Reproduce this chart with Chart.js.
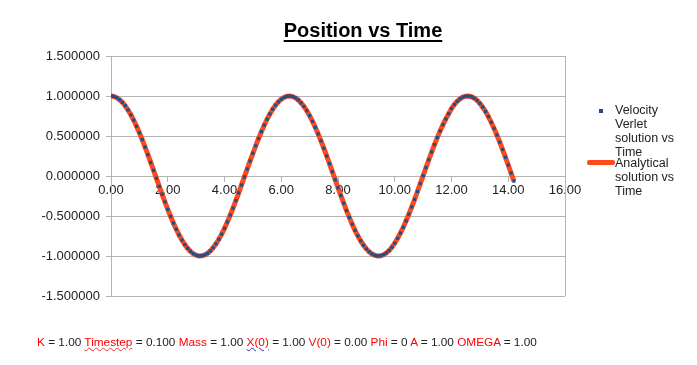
<!DOCTYPE html>
<html>
<head>
<meta charset="utf-8">
<script src="https://cdn.jsdelivr.net/npm/chart.js@4.4.1/dist/chart.umd.min.js"></script>
<style>
  html, body { margin: 0; padding: 0; background: #fff; }
  #wrap { position: relative; width: 697px; height: 365px; overflow: hidden; background: #fff; font-family: "Liberation Sans", Arial, sans-serif; }
  #c { position: absolute; left: 0; top: 0; }
  #title { position: absolute; left: 213px; width: 300px; top: 20px; text-align: center; font: bold 20px/20px "Liberation Sans", Arial, sans-serif; color: #000; text-decoration: underline; text-decoration-thickness: 2px; text-underline-offset: 3px; }
  .lg { position: absolute; font-size: 12.5px; line-height: 14px; color: #222; }
  #mk1 { position: absolute; left: 599px; top: 109px; width: 4px; height: 4px; background: #1F4E89; }
  #mk2 { position: absolute; left: 587px; top: 160px; width: 28px; height: 5px; background: #FF4A1C; border-radius: 2px; }
  #foot { position: absolute; left: 37px; top: 335px; font-size: 11.8px; line-height: 14px; color: #222; white-space: nowrap; }
  #foot .r { color: #f00; }
  #foot .wr { color: #f00; text-decoration: underline wavy #e33; text-decoration-thickness: 1px; }
  #foot .wb { color: #f00; text-decoration: underline wavy #33c; text-decoration-thickness: 1px; }
</style>
</head>
<body>
<div id="wrap">
  <canvas id="c" width="697" height="365"></canvas>
  <div id="title">Position vs Time</div>
  <div id="mk1"></div>
  <div class="lg" style="left:615px; top:103px;">Velocity<br>Verlet<br>solution vs<br>Time</div>
  <div id="mk2"></div>
  <div class="lg" style="left:615px; top:156px;">Analytical<br>solution vs<br>Time</div>
  <div id="foot"><span class="r">K</span> = 1.00 <span class="wr">Timestep</span> = 0.100 <span class="r">Mass</span> = 1.00 <span class="wb">X(0)</span> = 1.00 <span class="r">V(0)</span> = 0.00 <span class="r">Phi</span> = 0 <span class="r">A</span> = 1.00 <span class="r">OMEGA</span> = 1.00</div>
</div>
<script>
const timeValues = [0.0,0.1,0.2,0.3,0.4,0.5,0.6,0.7,0.8,0.9,1.0,1.1,1.2,1.3,1.4,1.5,1.6,1.7,1.8,1.9,2.0,2.1,2.2,2.3,2.4,2.5,2.6,2.7,2.8,2.9,3.0,3.1,3.2,3.3,3.4,3.5,3.6,3.7,3.8,3.9,4.0,4.1,4.2,4.3,4.4,4.5,4.6,4.7,4.8,4.9,5.0,5.1,5.2,5.3,5.4,5.5,5.6,5.7,5.8,5.9,6.0,6.1,6.2,6.3,6.4,6.5,6.6,6.7,6.8,6.9,7.0,7.1,7.2,7.3,7.4,7.5,7.6,7.7,7.8,7.9,8.0,8.1,8.2,8.3,8.4,8.5,8.6,8.7,8.8,8.9,9.0,9.1,9.2,9.3,9.4,9.5,9.6,9.7,9.8,9.9,10.0,10.1,10.2,10.3,10.4,10.5,10.6,10.7,10.8,10.9,11.0,11.1,11.2,11.3,11.4,11.5,11.6,11.7,11.8,11.9,12.0,12.1,12.2,12.3,12.4,12.5,12.6,12.7,12.8,12.9,13.0,13.1,13.2,13.3,13.4,13.5,13.6,13.7,13.8,13.9,14.0,14.1,14.2];

const verletPositions = [1.000,0.995,0.980,0.955,0.921,0.878,0.825,0.765,0.697,0.622,0.540,0.454,0.362,0.267,0.170,0.071,-0.029,-0.129,-0.227,-0.323,-0.416,-0.505,-0.589,-0.666,-0.737,-0.801,-0.857,-0.904,-0.942,-0.971,-0.990,-0.999,-0.998,-0.987,-0.967,-0.936,-0.897,-0.848,-0.791,-0.726,-0.654,-0.575,-0.490,-0.401,-0.307,-0.211,-0.112,-0.012,0.087,0.187,0.284,0.378,0.469,0.554,0.635,0.709,0.776,0.835,0.886,0.927,0.960,0.983,0.997,1.000,0.993,0.977,0.950,0.914,0.869,0.816,0.754,0.684,0.608,0.526,0.439,0.347,0.251,0.154,0.054,-0.046,-0.146,-0.244,-0.340,-0.432,-0.519,-0.602,-0.679,-0.749,-0.811,-0.865,-0.911,-0.948,-0.975,-0.992,-1.000,-0.997,-0.985,-0.963,-0.932,-0.891,-0.839,-0.779,-0.714,-0.641,-0.561,-0.476,-0.386,-0.291,-0.194,-0.095,0.004,0.104,0.203,0.299,0.392,0.480,0.564,0.642,0.714,0.778,0.844,0.893,0.934,0.965,0.986,0.998,0.999,0.991,0.973,0.945,0.907,0.861,0.806,0.743,0.672,0.594,0.512,0.423,0.331,0.235,0.137,0.037,-0.063];

const analyticalPositions = [1.000,0.995,0.980,0.955,0.921,0.878,0.825,0.765,0.697,0.622,0.540,0.454,0.362,0.267,0.170,0.071,-0.029,-0.129,-0.227,-0.323,-0.416,-0.505,-0.589,-0.666,-0.737,-0.801,-0.857,-0.904,-0.942,-0.971,-0.990,-0.999,-0.998,-0.987,-0.967,-0.936,-0.897,-0.848,-0.791,-0.726,-0.654,-0.575,-0.490,-0.401,-0.307,-0.211,-0.112,-0.012,0.087,0.187,0.284,0.378,0.469,0.554,0.635,0.709,0.776,0.835,0.886,0.927,0.960,0.983,0.997,1.000,0.993,0.977,0.950,0.914,0.869,0.816,0.754,0.684,0.608,0.526,0.439,0.347,0.251,0.154,0.054,-0.046,-0.146,-0.244,-0.340,-0.432,-0.519,-0.602,-0.679,-0.749,-0.811,-0.865,-0.911,-0.948,-0.975,-0.992,-1.000,-0.997,-0.985,-0.963,-0.932,-0.891,-0.839,-0.779,-0.714,-0.641,-0.561,-0.476,-0.386,-0.291,-0.194,-0.095,0.004,0.104,0.203,0.299,0.392,0.480,0.564,0.642,0.714,0.778,0.844,0.893,0.934,0.965,0.986,0.998,0.999,0.991,0.973,0.945,0.907,0.861,0.806,0.743,0.672,0.594,0.512,0.423,0.331,0.235,0.137,0.037,-0.063];

const seriesNames = ["Velocity Verlet solution vs Time", "Analytical solution vs Time"];

const verletData = timeValues.map((t, i) => ({ x: t, y: verletPositions[i] }));
const analyticalData = timeValues.map((t, i) => ({ x: t, y: analyticalPositions[i] }));

const gridColor = '#b4b4b4';
const tickFont = { family: '"Liberation Sans", Arial, sans-serif', size: 13 };

const frameBorder = {
  id: 'frameBorder',
  beforeDatasetsDraw(chart) {
    const { ctx, chartArea: a } = chart;
    ctx.save();
    ctx.strokeStyle = gridColor;
    ctx.lineWidth = 1;
    ctx.beginPath();
    ctx.moveTo(Math.round(a.right) + 0.5, a.top);
    ctx.lineTo(Math.round(a.right) + 0.5, a.bottom);
    ctx.stroke();
    ctx.restore();
  }
};

new Chart(document.getElementById('c'), {
  type: 'scatter',
  data: {
    datasets: [
      {
        label: seriesNames[0],
        data: verletData,
        showLine: false,
        pointStyle: 'rect',
        pointRadius: 2.3,
        pointHoverRadius: 2.3,
        borderWidth: 0,
        backgroundColor: '#1F4E89',
        borderColor: '#1F4E89'
      },
      {
        label: seriesNames[1],
        data: analyticalData,
        showLine: true,
        borderColor: '#FF4A1C',
        backgroundColor: '#FF4A1C',
        borderWidth: 5,
        pointRadius: 0,
        tension: 0
      }
    ]
  },
  options: {
    responsive: false,
    animation: false,
    devicePixelRatio: 1,
    layout: { padding: { left: 21, right: 132, top: 56, bottom: 69 } },
    plugins: { legend: { display: false }, tooltip: { enabled: false }, title: { display: false } },
    scales: {
      x: {
        type: 'linear',
        min: 0, max: 16,
        position: { y: 0 },
        ticks: { stepSize: 2, callback: v => Number(v).toFixed(2), font: tickFont, color: '#222', padding: 2, maxRotation: 0 },
        grid: { drawOnChartArea: false, drawTicks: true, tickLength: 5, color: gridColor },
        border: { display: true, color: gridColor }
      },
      y: {
        type: 'linear',
        min: -1.5, max: 1.5,
        ticks: { stepSize: 0.5, callback: v => Number(v).toFixed(6), font: tickFont, color: '#222', padding: 6 },
        grid: { color: gridColor, tickLength: 5 },
        border: { display: true, color: gridColor },
        afterFit: s => { s.width = 90; }
      }
    }
  },
  plugins: [frameBorder]
});
</script>
</body>
</html>
